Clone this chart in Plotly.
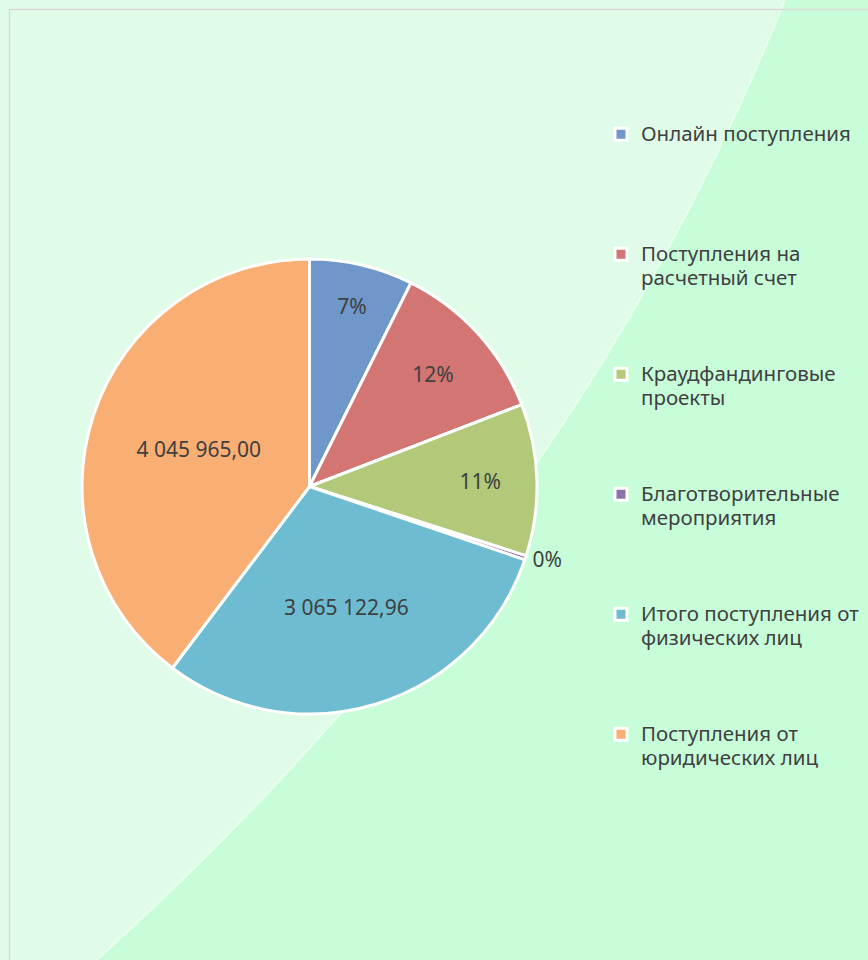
import plotly.graph_objects as go

# ---- data ----
categories = [
    "Онлайн поступления",
    "Поступления на<br>расчетный счет",
    "Краудфандинговые<br>проекты",
    "Благотворительные<br>мероприятия",
    "Итого поступления от<br>физических лиц",
    "Поступления от<br>юридических лиц",
]
values = [750000, 1200000, 1100000, 30000, 3065122.96, 4045965.00]
label_mode = ["percent", "percent", "percent", "percent", "value", "value"]
text_pos = ["inside", "inside", "inside", "outside", "inside", "inside"]

colors = ["#6f97c9", "#d27573", "#b2c97a", "#8c73ad", "#6dbcd2", "#f9ae74"]

W, H = 868, 960


def fmt_ru(v):
    return f"{v:,.2f}".replace(",", " ").replace(".", ",")


texts = [fmt_ru(v) for v in values]
templates = ["%{percent:.0%}" if m == "percent" else "%{text}" for m in label_mode]

# legend labels padded to equal height (5 lines)
leg_labels = []
for c in categories:
    n = c.count("<br>") + 1
    pad = '<br><span style="font-size:1px"> </span>' * (5 - n)
    leg_labels.append('<span style="font-size:20.5px">' + c + "</span>" + pad)

fig = go.Figure()
fig.add_trace(go.Pie(
    labels=leg_labels,
    values=values,
    text=texts,
    texttemplate=templates,
    textposition=text_pos,
    insidetextorientation="horizontal",
    sort=False,
    direction="clockwise",
    rotation=0,
    marker=dict(colors=colors, line=dict(color="white", width=3)),
    textfont=dict(family="Noto Sans", size=21, color="#404040"),
    domain=dict(x=[82 / W, 537 / W], y=[1 - 714 / H, 1 - 259 / H]),
    hoverinfo="label+value+percent",
))


def px(x, y):
    return f"{x / W:.4f},{1 - y / H:.4f}"


curve = f"M {px(785, 0)} C {px(657, 320)} {px(449, 640)} {px(97, 960)}"
path = curve + f" L {px(W + 5, H + 5)} L {px(W + 5, -5)} Z"

fig.update_layout(
    width=W, height=H,
    margin=dict(l=0, r=0, t=0, b=0),
    paper_bgcolor="#e0fce9",
    plot_bgcolor="#e0fce9",
    font=dict(family="Noto Sans", color="#404040"),
    showlegend=True,
    legend=dict(
        x=601 / W, y=1 - 116 / H, xanchor="left", yanchor="top",
        font=dict(family="Noto Sans", size=18, color="#404040"),
        valign="top", bgcolor="rgba(0,0,0,0)", borderwidth=0,
        itemclick=False, itemdoubleclick=False,
    ),
    shapes=[
        dict(type="path", xref="paper", yref="paper", path=path,
             fillcolor="#c8fdd9", line=dict(width=0), layer="below"),
        dict(type="path", xref="paper", yref="paper", path=curve,
             line=dict(color="rgba(236,255,242,0.7)", width=2), layer="below"),
        dict(type="rect", xref="paper", yref="paper",
             x0=9.5 / W, x1=1.02, y0=-0.02, y1=1 - 9.5 / H,
             line=dict(color="#d9d9d9", width=1.5), fillcolor="rgba(0,0,0,0)", layer="below"),
    ],
)

fig.write_html(
    "out.html",
    config={"displayModeBar": False},
    post_script="document.body.style.margin='0';document.body.style.overflow='hidden';",
)
